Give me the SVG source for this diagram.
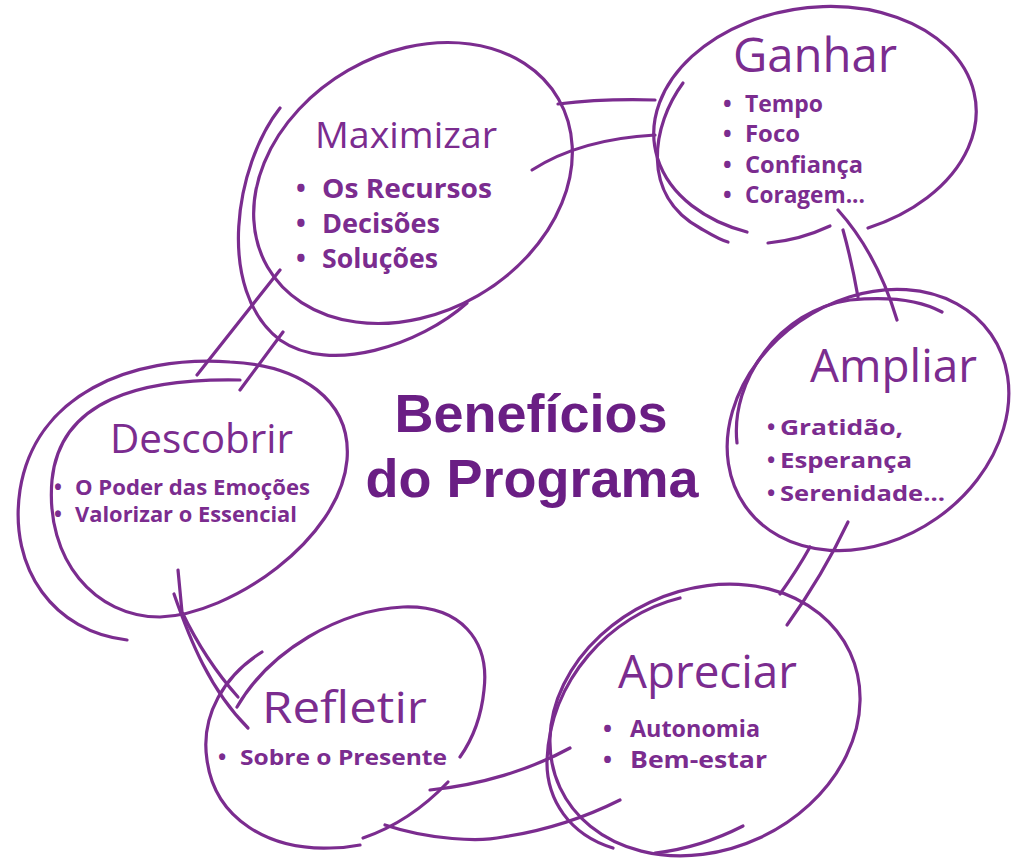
<svg xmlns="http://www.w3.org/2000/svg" width="1024" height="867" viewBox="0 0 1024 867">
<style>
.s{fill:none;stroke:#7B2C8F;stroke-width:3.2;stroke-linecap:round;stroke-linejoin:round}
.h{font-family:"Open Sans",sans-serif;font-weight:400;fill:#7B2C8F}
.t{font-family:"Open Sans",sans-serif;font-weight:700;fill:#7B2C8F}
.c{font-family:"Liberation Sans",Arial,sans-serif;font-weight:700;fill:#6A1E84;text-anchor:middle;font-size:54px}
</style>
<rect width="1024" height="867" fill="#ffffff"/>
<g id="connectors">
<path class="s" d="M558,104 C590,100 620,99 655,100"/>
<path class="s" d="M532,170 C560,152 600,138 655,135"/>
<path class="s" d="M838,210 C865,240 885,280 897,320"/>
<path class="s" d="M843,230 C850,255 855,280 858,297"/>
<path class="s" d="M848,522 C830,560 805,600 787,625"/>
<path class="s" d="M810,547 C800,565 790,580 780,594"/>
<path class="s" d="M430,790 C480,785 530,770 570,748"/>
<path class="s" d="M385,825 C430,840 480,842 503,837 C550,830 590,815 620,800"/>
<path class="s" d="M178,570 L182,612 Q205,660 238,697"/>
<path class="s" d="M174,594 C190,640 210,690 248,728"/>
<path class="s" d="M280,270 L197,375"/>
<path class="s" d="M283,332 L240,390"/>
</g>
<g id="center">
<text class="c" x="531" y="432">Benefícios</text>
<text class="c" x="532" y="497">do Programa</text>
</g>
<g id="maximizar">
<ellipse class="s" cx="413" cy="183" rx="168" ry="130" transform="rotate(-30 413 183)"/>
<path class="s" d="M280,108 C235,165 215,290 280,340 C330,375 420,345 467,303"/>
<text class="h" x="315" y="148" font-size="37" textLength="182" lengthAdjust="spacingAndGlyphs">Maximizar</text>
<text class="t" x="296" y="198" font-size="26">•</text>
<text class="t" x="322" y="198" font-size="26" textLength="170" lengthAdjust="spacingAndGlyphs">Os Recursos</text>
<text class="t" x="296" y="233" font-size="26">•</text>
<text class="t" x="322" y="233" font-size="26" textLength="118" lengthAdjust="spacingAndGlyphs">Decisões</text>
<text class="t" x="296" y="268" font-size="26">•</text>
<text class="t" x="322" y="268" font-size="26" textLength="116" lengthAdjust="spacingAndGlyphs">Soluções</text>
</g>
<g id="ganhar">
<path class="s" d="M868,228 A162 115 -8 1 0 747,232"/>
<path class="s" d="M683,83 C652,125 640,195 700,228 C712,235 720,240 728,242"/>
<path class="s" d="M768,243 Q800,240 830,226"/>
<text class="h" x="733" y="72" font-size="48" textLength="164" lengthAdjust="spacingAndGlyphs">Ganhar</text>
<text class="t" x="723" y="112" font-size="23">•</text>
<text class="t" x="745" y="112" font-size="23" textLength="78" lengthAdjust="spacingAndGlyphs">Tempo</text>
<text class="t" x="723" y="142" font-size="23">•</text>
<text class="t" x="745" y="142" font-size="23" textLength="55" lengthAdjust="spacingAndGlyphs">Foco</text>
<text class="t" x="723" y="173" font-size="23">•</text>
<text class="t" x="745" y="173" font-size="23" textLength="118" lengthAdjust="spacingAndGlyphs">Confiança</text>
<text class="t" x="723" y="203" font-size="23">•</text>
<text class="t" x="745" y="203" font-size="23" textLength="120" lengthAdjust="spacingAndGlyphs">Coragem...</text>
</g>
<g id="ampliar">
<ellipse class="s" cx="868" cy="420" rx="150" ry="120" transform="rotate(-35 868 420)"/>
<path class="s" d="M737,443 C730,380 780,310 850,300 C890,296 920,300 942,312"/>
<text class="h" x="810" y="382" font-size="45" textLength="167" lengthAdjust="spacingAndGlyphs">Ampliar</text>
<text class="t" x="767" y="435" font-size="22">•</text>
<text class="t" x="780" y="435" font-size="22" textLength="123" lengthAdjust="spacingAndGlyphs">Gratidão,</text>
<text class="t" x="767" y="468" font-size="22">•</text>
<text class="t" x="780" y="468" font-size="22" textLength="132" lengthAdjust="spacingAndGlyphs">Esperança</text>
<text class="t" x="767" y="501" font-size="22">•</text>
<text class="t" x="780" y="501" font-size="22" textLength="165" lengthAdjust="spacingAndGlyphs">Serenidade...</text>
</g>
<g id="descobrir">
<path class="s" d="M240,380 C140,378 60,400 52,480 C45,560 95,617 160,617 C230,615 340,540 347,460 C352,400 300,365 230,362 C130,355 35,395 20,490 C8,570 55,632 127,640"/>
<text class="h" x="110" y="453" font-size="40" textLength="183" lengthAdjust="spacingAndGlyphs">Descobrir</text>
<text class="t" x="54" y="495" font-size="21">•</text>
<text class="t" x="75" y="495" font-size="21" textLength="235" lengthAdjust="spacingAndGlyphs">O Poder das Emoções</text>
<text class="t" x="54" y="522" font-size="21">•</text>
<text class="t" x="75" y="522" font-size="21" textLength="222" lengthAdjust="spacingAndGlyphs">Valorizar o Essencial</text>
</g>
<g id="refletir">
<path class="s" d="M237,707 C270,650 340,610 403,607 C460,605 490,640 484,690 C481,720 472,740 460,757"/>
<path class="s" d="M262,652 C225,675 200,715 207,760 C215,820 270,850 330,848 C345,848 355,846 360,845"/>
<path class="s" d="M363,838 Q410,822 448,782"/>
<text class="h" x="262" y="723" font-size="44" textLength="165" lengthAdjust="spacingAndGlyphs">Refletir</text>
<text class="t" x="218" y="765" font-size="22">•</text>
<text class="t" x="240" y="765" font-size="22" textLength="207" lengthAdjust="spacingAndGlyphs">Sobre o Presente</text>
</g>
<g id="apreciar">
<ellipse class="s" cx="705" cy="720" rx="160" ry="130" transform="rotate(-25 705 720)"/>
<path class="s" d="M680,598 C610,615 550,680 547,760 C546,800 570,835 613,848"/>
<path class="s" d="M743,826 Q700,848 655,853"/>
<text class="h" x="618" y="688" font-size="45" textLength="179" lengthAdjust="spacingAndGlyphs">Apreciar</text>
<text class="t" x="603" y="737" font-size="24">•</text>
<text class="t" x="630" y="737" font-size="24" textLength="130" lengthAdjust="spacingAndGlyphs">Autonomia</text>
<text class="t" x="603" y="768" font-size="24">•</text>
<text class="t" x="630" y="768" font-size="24" textLength="137" lengthAdjust="spacingAndGlyphs">Bem-estar</text>
</g>
</svg>
